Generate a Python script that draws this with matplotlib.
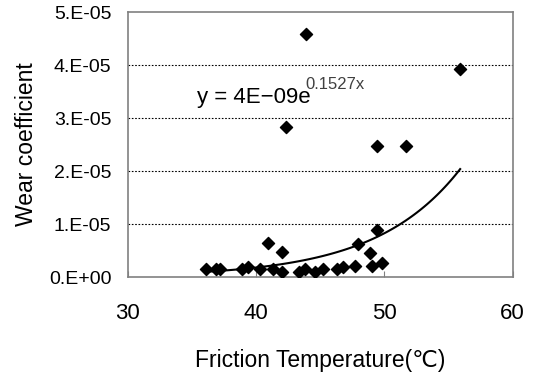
import numpy as np
import matplotlib
matplotlib.use("Agg")
import matplotlib.pyplot as plt
from matplotlib.ticker import FuncFormatter

plt.rcParams['font.family'] = ['Liberation Sans', 'DejaVu Sans']

# datos
temp = [36.1, 36.9, 37.2, 38.9, 39.4, 40.3, 40.9, 41.3, 42.0, 42.0, 42.3, 43.3,
        43.8, 43.9, 44.6, 45.2, 46.3, 46.8, 47.7, 47.9, 48.9, 49.0, 49.4, 49.4,
        49.8, 51.7, 55.9]
wear = [0.145, 0.145, 0.145, 0.145, 0.195, 0.145, 0.65, 0.145, 0.48, 0.09, 2.83, 0.09,
        0.145, 4.58, 0.09, 0.145, 0.145, 0.195, 0.21, 0.62, 0.45, 0.21, 2.48, 0.89,
        0.26, 2.48, 3.92]
wear = [w * 1e-5 for w in wear]

x_ticks = [30, 40, 50, 60]
y_ticks = [0, 1e-5, 2e-5, 3e-5, 4e-5, 5e-5]

# línea de tendencia tal como la da la ecuación del gráfico
coef_a = 4e-9
coef_b = 0.1527
t = np.array(temp)
xs = np.linspace(t.min(), t.max(), 100)
ys = coef_a * np.exp(coef_b * xs)

fig = plt.figure(figsize=(5.33, 3.79), dpi=100)
ax = fig.add_axes([0.240, 0.269, 0.722, 0.699])

ax.scatter(temp, wear, marker="D", s=38, color="black", zorder=3)
ax.plot(xs, ys, color="black", lw=1.5, zorder=2)

ax.set_xlim(30, 60)
ax.set_ylim(0, 5e-5)
ax.set_xticks(x_ticks)
ax.set_yticks(y_ticks)

def fmt(v, pos):
    m, e = f"{v:.0E}".split("E")
    return f"{m}.E{e}"
ax.yaxis.set_major_formatter(FuncFormatter(fmt))

for yv in y_ticks[1:-1]:
    ax.axhline(yv, color="black", lw=0.8, ls=(0, (1.5, 1.5)), zorder=1)

for s in ax.spines.values():
    s.set_color("#808080")
    s.set_linewidth(1.2)

ax.tick_params(axis="x", direction="in", length=4, labelsize=16, pad=19, color="#808080")
ax.tick_params(axis="y", length=0, labelsize=14, pad=12)

ax.set_xlabel("Friction Temperature(℃)", fontsize=16.5, labelpad=18)
ax.set_ylabel("Wear coefficient", fontsize=16.5, labelpad=8)

ax.text(35.4, 3.28e-5, "y = 4E−09e", fontsize=16, ha="left", va="baseline")
ax.text(43.8, 3.55e-5, "0.1527x", fontsize=12, ha="left", va="baseline", color="#404040")

fig.savefig("out.png", dpi=100)
